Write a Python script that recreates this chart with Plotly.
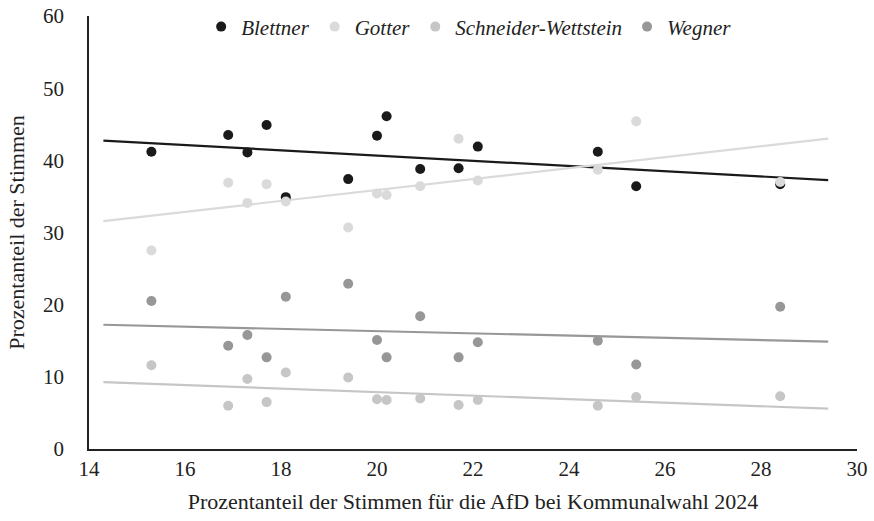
import numpy as np
import plotly.graph_objects as go

# AfD share in the local election 2024 (x) per municipality
afd_share = [15.3, 16.9, 17.3, 17.7, 18.1, 19.4, 20.0, 20.2, 20.9, 21.7, 22.1, 24.6, 25.4, 28.4]

# Vote share of each candidate (%)
blettner = [41.2, 43.5, 41.1, 44.9, 34.9, 37.4, 43.4, 46.1, 38.8, 38.9, 41.9, 41.2, 36.4, 36.7]
gotter = [27.5, 36.9, 34.1, 36.7, 34.3, 30.7, 35.4, 35.2, 36.4, 43.0, 37.2, 38.7, 45.4, 37.0]
schneider_wettstein = [11.6, 6.0, 9.7, 6.5, 10.6, 9.9, 6.9, 6.8, 7.0, 6.1, 6.8, 6.0, 7.2, 7.3]
wegner = [20.5, 14.3, 15.8, 12.7, 21.1, 22.9, 15.1, 12.7, 18.4, 12.7, 14.8, 15.0, 11.7, 19.7]

candidates = ["Blettner", "Gotter", "Schneider-Wettstein", "Wegner"]
series = [blettner, gotter, schneider_wettstein, wegner]
colors = ["#1a1a1a", "#dadada", "#c6c6c6", "#979797"]

# Trendlines are extended one unit beyond the data on both sides
trend_extension = 1.0

FONT = "Liberation Serif"
INK = "#222222"

fig = go.Figure()

x = np.array(afd_share)
tx = np.array([x.min() - trend_extension, x.max() + trend_extension])

# Trendlines first so the markers sit on top
for name, vals, col in zip(candidates, series, colors):
    slope, intercept = np.polyfit(x, np.array(vals), 1)
    fig.add_trace(go.Scatter(
        x=tx, y=slope * tx + intercept, mode="lines",
        line=dict(color=col, width=2.2), showlegend=False, hoverinfo="skip",
    ))

for name, vals, col in zip(candidates, series, colors):
    fig.add_trace(go.Scatter(
        x=afd_share, y=vals, mode="markers", name=name,
        marker=dict(color=col, size=10, line=dict(width=0)),
    ))

fig.update_layout(
    width=874, height=521,
    margin=dict(l=89, r=17, t=16, b=72, autoexpand=False),
    paper_bgcolor="white", plot_bgcolor="white",
    font=dict(family=FONT, size=21, color=INK),
    legend=dict(
        orientation="h", x=0.495, xanchor="center", y=1.022, yanchor="top",
        font=dict(family=FONT, size=21, color=INK, style="italic"),
        itemwidth=30, bgcolor="rgba(0,0,0,0)",
    ),
    xaxis=dict(
        range=[14, 30], dtick=2, showgrid=False, zeroline=False,
        showline=True, linecolor=INK, linewidth=1.5, automargin=False,
        ticks="", ticklabelstandoff=0,
        tickfont=dict(family=FONT, size=21, color=INK),
        title=dict(text="Prozentanteil der Stimmen für die AfD bei Kommunalwahl 2024",
                   font=dict(family=FONT, size=22, color=INK), standoff=14),
    ),
    yaxis=dict(
        range=[0, 60], dtick=10, showgrid=False, zeroline=False,
        showline=True, linecolor=INK, linewidth=1.5, automargin=False,
        ticks="", ticklabelstandoff=19,
        tickfont=dict(family=FONT, size=21, color=INK),
        title=dict(text="Prozentanteil der Stimmen",
                   font=dict(family=FONT, size=22, color=INK), standoff=12),
    ),
)

fig.write_html("out.html")
